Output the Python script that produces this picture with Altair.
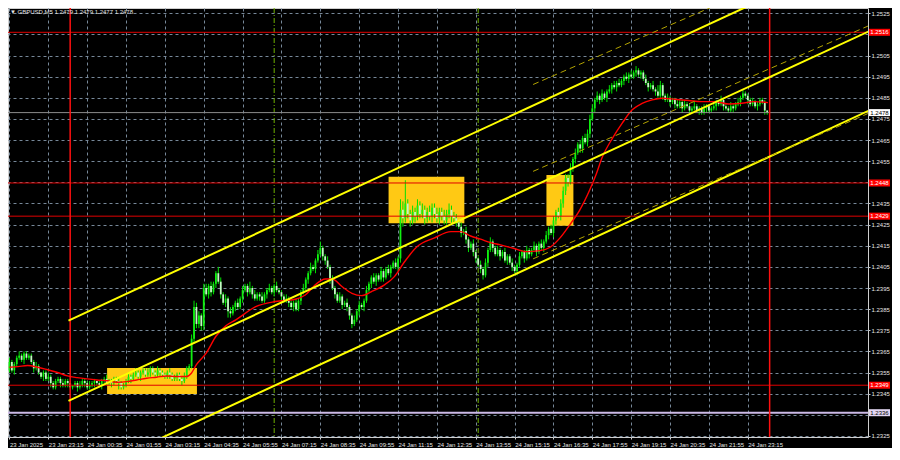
import json
import altair as alt
import pandas as pd

# ---------------- data ----------------
# M5 closes, bar 0 = 23 Jan 21:55 ... bar 312 = 24 Jan 23:55
closes = [
    1.2360, 1.2356, 1.2359, 1.2362, 1.2363, 1.2361, 1.2364, 1.2362, 1.2363,
    1.2360, 1.2357, 1.2358, 1.2355, 1.2353, 1.2355, 1.2352, 1.2353,
    1.2350, 1.2348, 1.2351, 1.2352, 1.2350, 1.2349, 1.2351, 1.2350, 1.2348,
    1.2349, 1.2350, 1.2348, 1.2349, 1.2351, 1.2350, 1.2348, 1.2349, 1.2350, 1.2351, 1.2350, 1.2349, 1.2351, 1.2352, 1.2350,
    1.2351, 1.2350, 1.2352, 1.2351, 1.2350, 1.2348, 1.2349, 1.2351, 1.2353, 1.2352,
    1.2354, 1.2355, 1.2353, 1.2355, 1.2356, 1.2354, 1.2355, 1.2357, 1.2355, 1.2354, 1.2356, 1.2355,
    1.2354, 1.2353, 1.2355, 1.2354, 1.2352, 1.2353, 1.2354, 1.2352, 1.2351, 1.2353, 1.2357, 1.2358,
    1.2371, 1.2386, 1.2378, 1.2382, 1.2377, 1.2395, 1.2392, 1.2396, 1.2393, 1.2397,
    1.2402, 1.2398, 1.2392, 1.2388, 1.2390, 1.2384, 1.2383, 1.2386, 1.2388, 1.2386,
    1.2390, 1.2394, 1.2396, 1.2393, 1.2395, 1.2392,
    1.2390, 1.2392, 1.2391, 1.2389, 1.2392, 1.2394,
    1.2395, 1.2393, 1.2396, 1.2394, 1.2393,
    1.2391, 1.2389, 1.2390, 1.2388,
    1.2386, 1.2388, 1.2385,
    1.2389, 1.2393, 1.2395,
    1.2399, 1.2402, 1.2405, 1.2404,
    1.2408, 1.2411, 1.2414, 1.2410,
    1.2408, 1.2405, 1.2399, 1.2395,
    1.2392, 1.2389, 1.2391, 1.2387, 1.2388, 1.2386,
    1.2382, 1.2378, 1.2380,
    1.2384, 1.2387, 1.2386, 1.2389,
    1.2394, 1.2397, 1.2400, 1.2398,
    1.2401, 1.2399, 1.2403, 1.2400, 1.2404, 1.2402, 1.2405,
    1.2407, 1.2405, 1.2409,
    1.2432, 1.2428, 1.2435, 1.2430,
    1.2427, 1.2431, 1.2429, 1.2434, 1.2430, 1.2432, 1.2428,
    1.2431, 1.2429, 1.2433, 1.2430, 1.2428,
    1.2431, 1.2429, 1.2427, 1.2430, 1.2432, 1.2429, 1.2428,
    1.2426, 1.2424, 1.2421, 1.2422,
    1.2418, 1.2414, 1.2416, 1.2412,
    1.2409, 1.2406, 1.2404, 1.2401, 1.2407,
    1.2413, 1.2417, 1.2414, 1.2411,
    1.2413, 1.2410, 1.2412, 1.2408, 1.2410,
    1.2407, 1.2405, 1.2403, 1.2406,
    1.2410, 1.2412, 1.2409, 1.2413, 1.2411,
    1.2413, 1.2415, 1.2412, 1.2416, 1.2414, 1.2417,
    1.2420, 1.2423, 1.2421,
    1.2427, 1.2431, 1.2429, 1.2435,
    1.2441, 1.2447, 1.2445,
    1.2452, 1.2456,
    1.2459, 1.2463, 1.2461, 1.2466, 1.2464, 1.2468,
    1.2475, 1.2480,
    1.2484, 1.2486, 1.2484, 1.2487, 1.2485, 1.2488,
    1.2489, 1.2491, 1.2490, 1.2492, 1.2491,
    1.2493, 1.2495, 1.2494, 1.2496, 1.2495, 1.2497, 1.2498, 1.2496, 1.2497,
    1.2494, 1.2492, 1.2490, 1.2491, 1.2489,
    1.2488, 1.2486, 1.2491,
    1.2486, 1.2484, 1.2485, 1.2483, 1.2484,
    1.2482, 1.2481, 1.2483, 1.2480, 1.2482, 1.2481, 1.2479,
    1.2480, 1.2481, 1.2479, 1.2480, 1.2478, 1.2480, 1.2481, 1.2479, 1.2480, 1.2481,
    1.2483, 1.2482, 1.2484, 1.2481,
    1.2480, 1.2479, 1.2481, 1.2480, 1.2482, 1.2483,
    1.2485, 1.2487, 1.2486, 1.2484,
    1.2482, 1.2483, 1.2481, 1.2482,
    1.2484, 1.2483, 1.2479,
    1.2478,
]
first_open = 1.2356

# wick lengths in pips above max(open, close) / below min(open, close)
upper_wick_pips = [
    2, 1, 1, 1, 2, 1, 1, 1, 1, 1,  1, 2, 1, 0, 1, 1, 2, 1, 1, 1,
    1, 1, 2, 1, 1, 1, 0, 1, 1, 2,  1, 1, 1, 2, 1, 1, 0, 1, 1, 1,
    2, 1, 1, 1, 1, 2, 1, 1, 1, 2,  1, 1, 2, 1, 1, 1, 1, 2, 1, 1,
    1, 2, 1, 1, 1, 1, 2, 1, 1, 1,  1, 1, 2, 1, 1, 2, 3, 2, 2, 1,
    2, 2, 1, 2, 1, 1, 3, 2, 1, 2,  1, 2, 1, 1, 2, 1, 2, 1, 1, 3,
    1, 2, 1, 1, 2, 1, 1, 2, 1, 1,  2, 1, 1, 1, 2, 1, 1, 1, 2, 1,
    1, 2, 1, 1, 2, 1, 1, 2, 3, 1,  1, 2, 1, 2, 1, 1, 2, 1, 1, 2,
    1, 1, 2, 1, 2, 1, 1, 2, 1, 1,  2, 1, 1, 2, 1, 1, 2, 1, 1, 2,
    1, 5, 4, 11, 2, 2, 3, 2, 3, 2,  3, 2, 2, 3, 2, 2, 3, 2, 2, 3,
    2, 3, 2, 2, 2, 1, 2, 1, 2, 1,  1, 2, 1, 1, 2, 1, 2, 1, 2, 1,
    1, 2, 1, 1, 2, 1, 1, 2, 1, 1,  2, 1, 1, 2, 1, 1, 2, 1, 1, 2,
    1, 2, 1, 2, 2, 1, 2, 2, 2, 2,  2, 2, 1, 2, 1, 2, 1, 2, 2, 2,
    2, 1, 2, 1, 2, 1, 1, 2, 1, 2,  1, 2, 1, 1, 2, 1, 2, 1, 2, 1,
    1, 1, 2, 1, 1, 2, 1, 3, 2, 1,  1, 2, 1, 1, 1, 2, 1, 1, 2, 1,
    1, 1, 2, 1, 1, 1, 2, 1, 1, 1,  2, 1, 1, 2, 1, 1, 1, 2, 1, 1,
    2, 1, 2, 1, 1, 1, 2, 1, 1, 1,  1, 1, 0,
]
lower_wick_pips = [
    1, 1, 2, 1, 1, 1, 2, 1, 1, 1,  2, 1, 1, 1, 2, 1, 1, 2, 1, 1,
    1, 2, 1, 1, 2, 1, 1, 1, 2, 1,  1, 2, 1, 1, 1, 2, 1, 1, 2, 1,
    1, 1, 2, 1, 1, 3, 1, 1, 1, 1,  2, 1, 1, 1, 2, 1, 1, 1, 2, 1,
    1, 1, 2, 1, 1, 1, 2, 1, 1, 2,  1, 2, 1, 1, 1, 1, 2, 2, 2, 2,
    2, 1, 2, 2, 1, 2, 1, 2, 1, 2,  3, 2, 1, 2, 1, 1, 2, 1, 2, 1,
    2, 1, 1, 2, 1, 1, 2, 1, 1, 2,  1, 1, 2, 1, 1, 2, 1, 2, 1, 1,
    2, 1, 1, 2, 1, 1, 2, 1, 1, 2,  2, 1, 2, 1, 2, 1, 1, 2, 1, 2,
    2, 2, 1, 1, 2, 1, 2, 1, 1, 2,  1, 2, 1, 1, 2, 1, 1, 2, 1, 1,
    2, 2, 4, 2, 2, 3, 2, 3, 2, 2,  2, 3, 2, 2, 3, 2, 2, 3, 2, 2,
    2, 2, 3, 2, 2, 1, 2, 1, 2, 2,  1, 2, 2, 1, 2, 2, 1, 2, 1, 2,
    1, 1, 2, 1, 1, 2, 1, 2, 1, 2,  1, 1, 2, 1, 2, 1, 1, 2, 1, 1,
    2, 1, 2, 1, 2, 2, 1, 2, 2, 2,  2, 1, 2, 2, 1, 2, 2, 1, 2, 2,
    1, 2, 1, 2, 1, 1, 2, 1, 2, 1,  2, 1, 1, 2, 1, 2, 1, 1, 2, 1,
    2, 1, 1, 2, 1, 1, 2, 1, 1, 2,  1, 1, 2, 1, 2, 1, 1, 2, 1, 1,
    2, 1, 1, 1, 2, 1, 1, 2, 1, 1,  1, 2, 1, 1, 2, 1, 1, 1, 2, 1,
    1, 2, 1, 1, 2, 1, 1, 1, 2, 1,  1, 2, 1,
]

# moving average (red line) read at sample bars
ma_bars = [0, 3.5, 7.5, 11.6, 15.7, 19.8, 23.9, 27.9, 32, 36.1, 40.2, 44.3, 48.3, 52.4,
           56.5, 60.6, 64.7, 68.7, 72.8, 74.9, 76.9, 81, 85.1, 89.1, 93.2, 101.4, 109.5,
           117.7, 121.8, 125.9, 130, 132.9, 136.9, 141, 145, 149.1, 154.4, 158.5, 162.6,
           167.9, 174.8, 181.8, 185.9, 189.9, 194, 198.1, 202.2, 207.5, 212.8, 218.5,
           222.6, 226.6, 230.7, 234.8, 238.9, 241.3, 244.2, 248.3, 252.3, 256.4, 260.5,
           264.6, 268.7, 274, 279.7, 285, 290.3, 296, 301.5, 306.6, 312.3]
ma_prices = [1.23575, 1.23578, 1.23583, 1.23575, 1.23563, 1.23550, 1.23534, 1.23526, 1.23520,
             1.23515, 1.23511, 1.23504, 1.23507, 1.23515, 1.23523, 1.23528, 1.23534, 1.23531,
             1.23531, 1.23547, 1.23586, 1.23642, 1.23723, 1.23771, 1.23799, 1.23862, 1.23886,
             1.23897, 1.23917, 1.23965, 1.23993, 1.23993, 1.23957, 1.23925, 1.23914, 1.23933,
             1.23965, 1.24004, 1.24073, 1.24146, 1.24186, 1.24217, 1.24217, 1.24196, 1.24181,
             1.24165, 1.24154, 1.24138, 1.24122, 1.24127, 1.24143, 1.24186, 1.24249, 1.24319,
             1.24414, 1.24480, 1.24572, 1.24659, 1.24730, 1.24793, 1.24824, 1.24840, 1.24848,
             1.24843, 1.24837, 1.24832, 1.24832, 1.24821, 1.24824, 1.24832, 1.24827]

# time axis
time_label_bars = [0, 16, 32, 48, 64, 80, 96, 112, 128, 144, 160, 176, 192, 208, 224, 240,
                   256, 272, 288, 304]
time_labels = ["23 Jan 2025", "23 Jan 23:15", "24 Jan 00:35", "24 Jan 01:55", "24 Jan 03:15",
               "24 Jan 04:35", "24 Jan 05:55", "24 Jan 07:15", "24 Jan 08:35", "24 Jan 09:55",
               "24 Jan 11:15", "24 Jan 12:35", "24 Jan 13:55", "24 Jan 15:15", "24 Jan 16:35",
               "24 Jan 17:55", "24 Jan 19:15", "24 Jan 20:35", "24 Jan 21:55", "24 Jan 23:15"]
price_ticks = [1.2325, 1.2335, 1.2345, 1.2355, 1.2365, 1.2375, 1.2385, 1.2395, 1.2405, 1.2415,
               1.2425, 1.2435, 1.2445, 1.2455, 1.2465, 1.2475, 1.2485, 1.2495, 1.2505, 1.2515,
               1.2525]

# horizontal levels
level_prices = [1.2516, 1.24447, 1.2429, 1.2349]
level_labels = ["1.2516", "1.2448", "1.2429", "1.2349"]
support_price = 1.2336
current_price = closes[-1]

# yellow zones (bars, prices)
zone_start = [40.2, 156.1, 221.1]
zone_end = [77.2, 187.3, 232.2]
zone_top = [1.23571, 1.24477, 1.24485]
zone_bot = [1.23448, 1.24257, 1.24245]

# channel lines (solid) and regression lines (dashed)
chan_names = ["upper", "middle", "lower"]
chan_start_bar = [24.3, 24.3, 24.3]
chan_start_price = [1.23796, 1.23416, 1.23037]
chan_end_bar = [356.4, 356.4, 356.4]
chan_end_price = [1.25562, 1.25178, 1.24803]
dash_start_bar = [215.6, 215.6, 215.6]
dash_start_price = [1.24913, 1.24502, 1.24088]
dash_end_bar = [356.4, 356.4, 356.4]
dash_end_price = [1.25615, 1.25204, 1.24790]

day_sep_bars = [25, 313]
session_bars = [109, 193]

# ---------------- build tables ----------------
pip = 0.0001
n = len(closes)
assert len(upper_wick_pips) == n and len(lower_wick_pips) == n, (n, len(upper_wick_pips), len(lower_wick_pips))
opens = [first_open] + closes[:-1]
rows = []
for i in range(n):
    o, c = opens[i], closes[i]
    rows.append(dict(bar=i, open=o, close=c,
                     high=max(o, c) + upper_wick_pips[i] * pip,
                     low=min(o, c) - lower_wick_pips[i] * pip,
                     dir="up" if c >= o else "down"))
candles = pd.DataFrame(rows)

W, H = 860, 429
XDOM = [-0.6, 353.5]
YDOM = [1.23245, 1.25275]
px_price = (YDOM[1] - YDOM[0]) / H

FONT = "Liberation Sans"
GRID = "#778899"
TXT = "#e4e4e4"

x_scale = alt.Scale(domain=XDOM, nice=False, zero=False)
y_scale = alt.Scale(domain=YDOM, nice=False, zero=False)

x_label_expr = f"{json.dumps(time_labels)}[indexof({json.dumps(time_label_bars)}, datum.value)]"
covered = [t for t in price_ticks if any(abs(t - p) < 0.00025 for p in level_prices + [support_price])]
y_label_expr = f"indexof({json.dumps(covered)}, datum.value) >= 0 ? '' : format(datum.value, '.4f')"

x_axis = alt.Axis(values=time_label_bars, labelExpr=x_label_expr, title=None, grid=True,
                  gridColor=GRID, gridDash=[3, 3], gridWidth=1, domain=False, ticks=True,
                  tickSize=2, tickColor="#cfcfcf", labelColor=TXT, labelFont=FONT,
                  labelFontSize=6, labelAlign="left", labelBaseline="top", labelPadding=2,
                  labelOverlap=False, labelFlush=False, labelBound=False, zindex=0)
y_axis = alt.Axis(orient="right", values=price_ticks, labelExpr=y_label_expr, title=None,
                  grid=True, gridColor=GRID, gridDash=[3, 3], gridWidth=1, domain=False,
                  ticks=True, tickSize=2, tickColor="#cfcfcf", labelColor=TXT, labelFont=FONT,
                  labelFontSize=6, labelAlign="left", labelBaseline="middle", labelPadding=1,
                  labelOverlap=False, labelFlush=False, labelBound=False, zindex=0)


def X(field):
    return alt.X(field, type="quantitative", scale=x_scale, axis=x_axis)


def Y(field):
    return alt.Y(field, type="quantitative", scale=y_scale, axis=y_axis)


zones = pd.DataFrame(dict(x0=zone_start, x1=zone_end, top=zone_top, bot=zone_bot))
zone_layer = alt.Chart(zones).mark_rect(color="#ffc914", clip=True).encode(
    x=X("x0"), x2="x1", y=Y("top"), y2="bot")

sess_layer = alt.Chart(pd.DataFrame(dict(bar=session_bars))).mark_rule(
    color="#70b000", strokeWidth=1, strokeDash=[5, 2, 1, 2]).encode(x=X("bar"))
day_layer = alt.Chart(pd.DataFrame(dict(bar=day_sep_bars))).mark_rule(
    color="#ff1010", strokeWidth=1.5, clip=True).encode(x=X("bar"))

wick_layer = alt.Chart(candles).mark_rule(color="#00e000", strokeWidth=1, clip=True).encode(
    x=X("bar"), y=Y("low"), y2="high")
body_layer = alt.Chart(candles).mark_rule(strokeWidth=1.8, clip=True).encode(
    x=X("bar"), y=Y("open"), y2="close",
    color=alt.Color("dir:N", scale=alt.Scale(domain=["up", "down"], range=["#10f010", "#c4f7c4"]),
                    legend=None))

ma_df = pd.DataFrame(dict(bar=ma_bars, price=ma_prices))
ma_layer = alt.Chart(ma_df).mark_line(color="#ff0000", strokeWidth=1.4, interpolate="monotone",
                                      clip=True).encode(x=X("bar"), y=Y("price"))

hl_rows = [dict(price=p, col="#e00000", w=1) for p in level_prices]
hl_rows.append(dict(price=current_price, col="#8c8c8c", w=1))
hl_rows.append(dict(price=support_price, col="#cbb9e6", w=2))
hl_layer = alt.Chart(pd.DataFrame(hl_rows)).mark_rule(clip=True).encode(
    y=Y("price"), color=alt.Color("col:N", scale=None),
    strokeWidth=alt.StrokeWidth("w:Q", scale=None))

chan_rows = []
for k in range(3):
    chan_rows.append(dict(name=chan_names[k], bar=chan_start_bar[k], price=chan_start_price[k]))
    chan_rows.append(dict(name=chan_names[k], bar=chan_end_bar[k], price=chan_end_price[k]))
chan_layer = alt.Chart(pd.DataFrame(chan_rows)).mark_line(
    color="#ffff00", strokeWidth=2, clip=True).encode(x=X("bar"), y=Y("price"), detail="name:N")

dash_rows = []
for k in range(3):
    dash_rows.append(dict(name=chan_names[k], bar=dash_start_bar[k], price=dash_start_price[k]))
    dash_rows.append(dict(name=chan_names[k], bar=dash_end_bar[k], price=dash_end_price[k]))
dash_layer = alt.Chart(pd.DataFrame(dash_rows)).mark_line(
    color="#b4a400", strokeWidth=1, strokeDash=[6, 4], clip=True).encode(
    x=X("bar"), y=Y("price"), detail="name:N")

half = 3.5 * px_price
box_rows = [dict(price=p, label=l, box="#ff0000", tcol="#ffffff") for p, l in zip(level_prices, level_labels)]
box_rows.append(dict(price=current_price, label=f"{current_price:.4f}", box="#ffffff", tcol="#000000"))
box_rows.append(dict(price=support_price, label=f"{support_price:.4f}", box="#e2d6f2", tcol="#000000"))
box_df = pd.DataFrame(box_rows)
box_df["top"] = box_df["price"] + half
box_df["bot"] = box_df["price"] - half
box_layer = alt.Chart(box_df).mark_rect().encode(
    x=alt.value(W + 1), x2=alt.value(W + 22), y=Y("top"), y2="bot",
    color=alt.Color("box:N", scale=None))
box_text = alt.Chart(box_df).mark_text(font=FONT, fontSize=6, align="center",
                                       baseline="middle").encode(
    x=alt.value(W + 11.5), y=Y("price"), text="label:N", color=alt.Color("tcol:N", scale=None))

last = candles.iloc[-1]
header = (f"\u25bc GBPUSD,M5  {last['open']:.4f} {last['high']:.4f} "
          f"{last['low']:.4f} {last['close']:.4f}")
head_layer = alt.Chart(pd.DataFrame(dict(t=[header]))).mark_text(
    font=FONT, fontSize=6, align="left", baseline="top", color=TXT).encode(
    x=alt.value(2), y=alt.value(1), text="t:N")

chart = alt.layer(
    zone_layer, sess_layer, wick_layer, body_layer, ma_layer, hl_layer, day_layer,
    chan_layer, dash_layer, box_layer, box_text, head_layer,
).properties(
    width=W, height=H, background="#000000",
    autosize=alt.AutoSizeParams(type="none"),
    padding={"left": 0, "top": 0, "right": 24, "bottom": 11},
).configure_view(stroke="#cfcfcf", strokeWidth=1, fill="#000000")

chart.save("out.html", embed_options={"renderer": "svg", "actions": False})
